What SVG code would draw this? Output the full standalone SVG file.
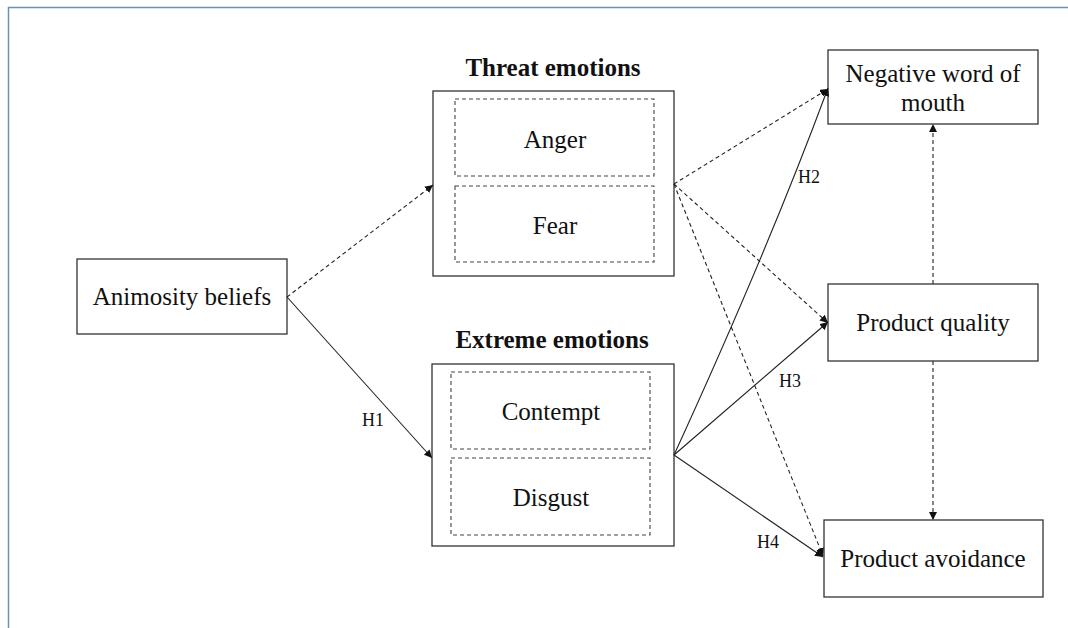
<svg xmlns="http://www.w3.org/2000/svg" width="1068" height="628" viewBox="0 0 1068 628">
<style>
.box{fill:#fff;stroke:#333;stroke-width:1.3}
.dbox{fill:none;stroke:#444;stroke-width:1.1;stroke-dasharray:4,3}
.t{font-family:"Liberation Serif","Times New Roman",serif;font-size:25px;fill:#111;text-anchor:middle}
.b{font-weight:bold}
.h{font-family:"Liberation Serif","Times New Roman",serif;font-size:18px;fill:#111;text-anchor:middle}
.s{fill:none;stroke:#222;stroke-width:1.1}
.d{fill:none;stroke:#222;stroke-width:1.1;stroke-dasharray:4,3}
</style>
<defs>
<marker id="ar" viewBox="0 0 10 10" refX="10" refY="5" markerWidth="8" markerHeight="8" markerUnits="userSpaceOnUse" orient="auto">
<path d="M0,0 L10,5 L0,10 z" fill="#111"/>
</marker>
</defs>
<rect x="0" y="0" width="1068" height="628" fill="#fff"/>
<path d="M8.5,628 V7.5 H1068" fill="none" stroke="#6f8fb8" stroke-width="1.5"/>

<g id="animosity">
<rect class="box" x="77" y="259" width="210" height="75"/>
<text class="t" x="182" y="305">Animosity beliefs</text>
</g>
<g id="threat">
<text class="t b" x="553" y="76">Threat emotions</text>
<rect class="box" x="433" y="91" width="241" height="185"/>
<rect class="dbox" x="455" y="99" width="199" height="77"/>
<text class="t" x="555" y="148">Anger</text>
<rect class="dbox" x="455" y="186" width="199" height="76"/>
<text class="t" x="555" y="234">Fear</text>
</g>
<g id="extreme">
<text class="t b" x="552" y="348">Extreme emotions</text>
<rect class="box" x="432" y="364" width="242" height="182"/>
<rect class="dbox" x="451" y="372" width="199" height="77"/>
<text class="t" x="551" y="420">Contempt</text>
<rect class="dbox" x="451" y="458" width="199" height="77"/>
<text class="t" x="551" y="506">Disgust</text>
</g>
<g id="nwom">
<rect class="box" x="828" y="50" width="210" height="74"/>
<text class="t" x="933" y="82">Negative word of</text>
<text class="t" x="933" y="111">mouth</text>
</g>
<g id="quality">
<rect class="box" x="828" y="284" width="210" height="77"/>
<text class="t" x="933" y="331">Product quality</text>
</g>
<g id="avoidance">
<rect class="box" x="824" y="520" width="219" height="77"/>
<text class="t" x="933" y="567">Product avoidance</text>
</g>

<g id="connectors">
<line class="d" x1="287" y1="297" x2="433" y2="185" marker-end="url(#ar)"/>
<line class="s" x1="287" y1="297" x2="432" y2="458" marker-end="url(#ar)"/>
<line class="d" x1="674" y1="184" x2="828" y2="89" marker-end="url(#ar)"/>
<line class="d" x1="674" y1="184" x2="828" y2="323" marker-end="url(#ar)"/>
<line class="d" x1="674" y1="184" x2="823" y2="556" marker-end="url(#ar)"/>
<path class="s" d="M674,455 Q768,250 828,88" marker-end="url(#ar)"/>
<line class="s" x1="674" y1="455" x2="828" y2="322" marker-end="url(#ar)"/>
<line class="s" x1="674" y1="455" x2="823" y2="557" marker-end="url(#ar)"/>
<line class="d" x1="933" y1="284" x2="933" y2="124" marker-end="url(#ar)"/>
<line class="d" x1="933" y1="361" x2="933" y2="520" marker-end="url(#ar)"/>
<text class="h" x="373" y="426">H1</text>
<text class="h" x="809" y="183">H2</text>
<text class="h" x="790" y="387">H3</text>
<text class="h" x="768" y="548">H4</text>
</g>
</svg>
